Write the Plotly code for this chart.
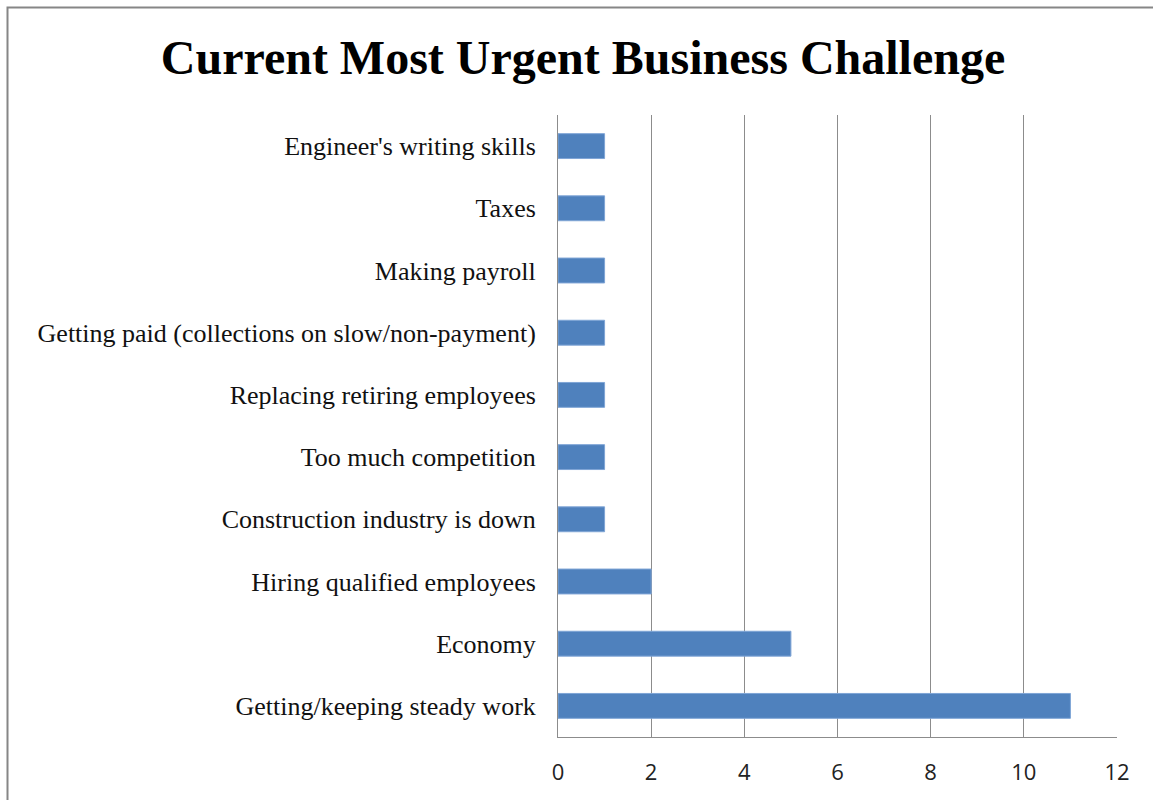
import plotly.graph_objects as go

categories = [
    "Getting/keeping steady work",
    "Economy",
    "Hiring qualified employees",
    "Construction industry is down",
    "Too much competition",
    "Replacing retiring employees",
    "Getting paid (collections on slow/non-payment)",
    "Making payroll",
    "Taxes",
    "Engineer's writing skills",
]
counts = [11, 5, 2, 1, 1, 1, 1, 1, 1, 1]
tick_values = [0, 2, 4, 6, 8, 10, 12]

W, H = 1153, 800
L, R, T, B = 558, 36, 115, 63
plot_w = W - L - R
plot_h = H - T - B

fig = go.Figure(
    go.Bar(
        x=counts,
        y=categories,
        orientation="h",
        width=0.4,
        marker=dict(color="#4F81BD", line=dict(color="#7FA5D6", width=1)),
        hoverinfo="x+y",
    )
)

# outer frame of the chart area (top and left edges visible)
fig.add_shape(
    type="rect",
    xref="paper", yref="paper",
    x0=(7.5 - L) / plot_w, x1=(W + 20 - L) / plot_w,
    y0=-(B + 20) / plot_h, y1=(H - B - 7.5) / plot_h,
    line=dict(color="#868686", width=2),
    fillcolor="rgba(0,0,0,0)",
    layer="below",
)

fig.update_layout(
    width=W, height=H,
    margin=dict(l=L, r=R, t=T, b=B, pad=0),
    paper_bgcolor="white",
    plot_bgcolor="white",
    showlegend=False,
    bargap=0.6,
    title=dict(
        text="<b>Current Most Urgent Business Challenge</b>",
        font=dict(family="Liberation Serif, Times New Roman, serif", size=48, color="black"),
        xref="container", x=583 / W, xanchor="center",
        yref="container", y=1 - 57 / H, yanchor="middle",
    ),
    xaxis=dict(
        range=[0, 12],
        tickvals=tick_values,
        showgrid=True, gridcolor="#8C8C8C", gridwidth=1,
        zeroline=False,
        showline=True, linecolor="#8C8C8C", linewidth=1, mirror=False,
        ticks="", ticklabelstandoff=16,
        tickfont=dict(family="Open Sans, Noto Sans, sans-serif", size=22, color="#222222"),
        fixedrange=True,
    ),
    yaxis=dict(
        categoryorder="array", categoryarray=categories,
        showgrid=False, zeroline=False,
        showline=True, linecolor="#8C8C8C", linewidth=1,
        ticks="", ticklabelstandoff=16,
        tickfont=dict(family="Liberation Serif, Times New Roman, serif", size=26, color="#111111"),
        fixedrange=True,
    ),
)

fig.write_html("out.html")
